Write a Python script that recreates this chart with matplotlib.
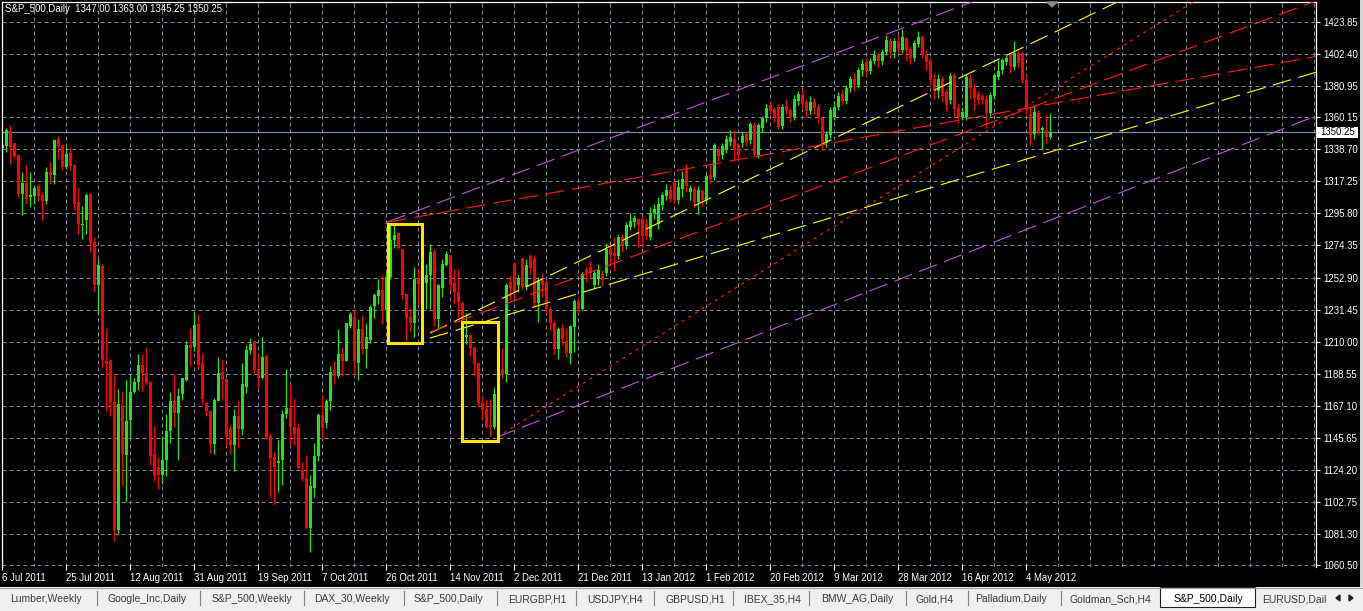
import matplotlib
matplotlib.use("Agg")
import matplotlib.pyplot as plt
from matplotlib.patches import Rectangle, Polygon

plt.rcParams['font.family'] = ['Liberation Sans', 'DejaVu Sans']

W, H = 1363, 611

# daily bars (Sun-Fri sessions), 6 Jul 2011 .. 11 May 2012
opens = [
    1339.4, 1341.2, 1350.8, 1342.9, 1334.9, 1308.8, 1316.2, 1306.5, 1307.6, 1314.4,
    1308.1, 1304.3, 1323.3, 1321.7, 1345.6, 1341.6, 1327.1, 1336.2, 1328.2, 1303.2,
    1288.2, 1291.6, 1308.8, 1276.4, 1248.0, 1260.7, 1197.1, 1197.7, 1169.6, 1083.8,
    1167.3, 1134.5, 1157.5, 1176.3, 1183.0, 1194.1, 1189.2, 1182.9, 1135.2, 1126.2,
    1121.1, 1131.1, 1150.1, 1170.6, 1162.4, 1174.7, 1184.7, 1207.6, 1206.6, 1221.6,
    1195.5, 1169.1, 1163.5, 1141.9, 1170.5, 1189.5, 1185.2, 1151.7, 1141.2, 1160.6,
    1151.7, 1179.8, 1204.4, 1210.4, 1191.6, 1185.9, 1200.2, 1146.6, 1133.2, 1129.1,
    1130.6, 1161.4, 1165.9, 1153.0, 1152.6, 1124.0, 1118.6, 1085.5, 1112.4, 1133.6,
    1161.1, 1155.9, 1170.0, 1190.8, 1187.0, 1201.5, 1197.3, 1220.6, 1226.5, 1195.7,
    1218.3, 1205.3, 1211.3, 1233.7, 1240.5, 1244.4, 1231.0, 1253.6, 1278.2, 1282.6,
    1272.0, 1241.9, 1226.8, 1222.5, 1252.9, 1248.0, 1249.1, 1254.5, 1270.1, 1225.0,
    1246.2, 1261.2, 1267.9, 1249.1, 1242.9, 1236.2, 1213.3, 1214.2, 1206.7, 1195.5,
    1169.1, 1165.1, 1154.6, 1153.0, 1175.0, 1191.5, 1188.1, 1250.0, 1262.0, 1247.8,
    1266.3, 1246.9, 1267.4, 1266.0, 1236.0, 1251.0, 1249.6, 1231.7, 1222.7, 1205.3,
    1219.4, 1210.5, 1202.2, 1220.0, 1237.3, 1232.1, 1258.5, 1260.0, 1248.0, 1252.0,
    1255.0, 1256.0, 1272.0, 1269.0, 1267.0, 1280.0, 1274.0, 1287.0, 1290.0, 1292.0,
    1292.0, 1289.0, 1280.0, 1296.0, 1288.9, 1301.6, 1307.2, 1311.2, 1317.0, 1304.5,
    1312.4, 1325.8, 1310.1, 1312.4, 1303.4, 1310.8, 1304.5, 1321.3, 1320.2, 1338.5,
    1334.7, 1338.5, 1343.6, 1345.9, 1342.1, 1343.0, 1349.2, 1344.7, 1354.8, 1334.7,
    1352.6, 1359.3, 1368.2, 1365.3, 1367.1, 1354.1, 1367.5, 1364.9, 1360.0, 1371.0,
    1375.0, 1370.0, 1364.0, 1370.0, 1367.0, 1359.3, 1343.0, 1348.0, 1360.4, 1367.0,
    1376.0, 1371.0, 1380.0, 1386.0, 1382.0, 1392.0, 1397.0, 1391.0, 1398.0, 1402.0,
    1398.0, 1404.0, 1411.0, 1404.0, 1411.0, 1405.0, 1413.0, 1406.0, 1400.0, 1409.0,
    1414.0, 1402.0, 1398.0, 1386.0, 1378.0, 1386.0, 1377.0, 1371.6, 1388.3, 1366.0,
    1360.4, 1360.0, 1385.7, 1380.0, 1376.0, 1374.3, 1372.0, 1363.1, 1374.3, 1386.8,
    1391.7, 1397.3, 1402.4, 1394.0, 1403.3, 1403.3, 1385.0, 1362.6, 1348.8, 1363.1,
    1351.5, 1351.9, 1347.0]
highs = [
    1343.4, 1353.0, 1355.0, 1343.0, 1335.6, 1323.3, 1328.2, 1323.3, 1313.9, 1315.5,
    1309.9, 1327.1, 1330.0, 1345.5, 1347.4, 1341.8, 1340.0, 1340.0, 1328.9, 1313.5,
    1300.5, 1309.4, 1309.4, 1279.7, 1265.2, 1261.8, 1219.0, 1198.2, 1188.6, 1178.5,
    1177.0, 1184.3, 1187.0, 1185.9, 1201.5, 1201.5, 1206.6, 1183.6, 1153.5, 1132.6,
    1146.8, 1161.3, 1176.3, 1188.1, 1179.2, 1186.0, 1210.5, 1219.0, 1229.8, 1228.3,
    1202.2, 1170.2, 1164.6, 1172.4, 1199.5, 1198.5, 1185.2, 1154.0, 1165.0, 1170.2,
    1196.0, 1207.7, 1212.6, 1210.4, 1202.0, 1213.4, 1202.0, 1149.0, 1136.3, 1144.2,
    1164.2, 1191.5, 1182.6, 1172.6, 1155.9, 1129.8, 1134.3, 1120.9, 1142.5, 1162.0,
    1174.5, 1171.6, 1194.0, 1196.9, 1218.7, 1206.6, 1222.4, 1229.7, 1232.0, 1225.0,
    1227.6, 1222.7, 1234.8, 1242.3, 1252.2, 1254.5, 1256.0, 1288.0, 1288.0, 1283.0,
    1272.0, 1242.0, 1232.8, 1259.8, 1259.6, 1254.0, 1261.8, 1275.2, 1272.3, 1248.4,
    1265.2, 1270.8, 1267.9, 1258.5, 1258.5, 1237.3, 1229.4, 1214.9, 1206.7, 1196.4,
    1174.0, 1170.9, 1171.4, 1179.9, 1194.0, 1206.0, 1249.5, 1254.0, 1263.0, 1254.5,
    1266.3, 1265.6, 1268.5, 1268.0, 1253.0, 1256.0, 1251.0, 1233.0, 1224.0, 1220.0,
    1222.0, 1219.4, 1221.0, 1238.4, 1240.0, 1256.3, 1260.0, 1264.0, 1258.0, 1262.0,
    1258.0, 1276.0, 1275.0, 1280.0, 1282.0, 1282.0, 1290.0, 1296.0, 1295.0, 1293.0,
    1294.0, 1292.0, 1300.0, 1302.0, 1306.8, 1310.0, 1315.7, 1314.6, 1317.3, 1319.0,
    1324.2, 1329.1, 1315.0, 1314.0, 1313.9, 1312.0, 1322.0, 1327.9, 1343.0, 1340.0,
    1343.0, 1348.0, 1351.5, 1351.5, 1342.5, 1350.0, 1351.0, 1357.0, 1357.0, 1356.0,
    1361.0, 1369.0, 1371.0, 1367.0, 1369.0, 1369.0, 1372.0, 1366.0, 1375.0, 1378.0,
    1379.0, 1372.0, 1374.0, 1373.0, 1369.0, 1360.4, 1351.0, 1367.0, 1371.0, 1377.0,
    1379.0, 1382.0, 1388.0, 1390.0, 1394.0, 1399.0, 1400.0, 1400.0, 1405.0, 1404.0,
    1406.0, 1415.0, 1413.0, 1413.0, 1416.0, 1419.0, 1414.0, 1408.0, 1412.0, 1418.0,
    1415.0, 1405.0, 1400.0, 1390.0, 1389.0, 1388.0, 1379.0, 1390.0, 1390.0, 1369.0,
    1367.0, 1389.0, 1389.0, 1383.0, 1378.0, 1376.0, 1374.9, 1377.0, 1390.0, 1398.4,
    1400.0, 1402.0, 1402.9, 1411.3, 1405.0, 1404.0, 1388.3, 1367.0, 1367.6, 1365.0,
    1354.2, 1362.6, 1363.0]
lows = [
    1326.2, 1337.0, 1329.0, 1332.7, 1307.0, 1295.0, 1302.0, 1300.3, 1302.0, 1304.3,
    1291.6, 1302.0, 1315.5, 1315.5, 1332.2, 1324.9, 1325.5, 1324.9, 1298.0, 1282.0,
    1278.6, 1282.0, 1270.1, 1243.3, 1228.3, 1193.3, 1163.6, 1160.6, 1076.4, 1081.5,
    1113.3, 1102.5, 1146.0, 1175.8, 1177.6, 1177.0, 1180.7, 1127.8, 1116.6, 1111.5,
    1115.0, 1120.0, 1142.3, 1153.0, 1131.0, 1171.0, 1184.0, 1193.7, 1204.0, 1191.9,
    1168.0, 1160.0, 1135.6, 1135.0, 1170.0, 1171.7, 1140.5, 1135.0, 1123.3, 1139.0,
    1147.3, 1176.0, 1202.0, 1189.0, 1178.7, 1185.0, 1145.0, 1106.1, 1101.0, 1109.6,
    1114.0, 1158.7, 1141.9, 1141.0, 1124.7, 1116.8, 1085.0, 1069.2, 1106.1, 1130.0,
    1145.4, 1152.4, 1164.0, 1181.5, 1185.9, 1187.0, 1196.9, 1219.0, 1188.0, 1184.7,
    1201.5, 1192.4, 1209.0, 1226.0, 1235.5, 1222.0, 1225.0, 1252.0, 1272.5, 1272.0,
    1238.5, 1210.7, 1217.0, 1213.0, 1234.4, 1236.0, 1232.1, 1231.7, 1220.5, 1218.7,
    1240.2, 1260.7, 1244.0, 1235.0, 1226.1, 1219.4, 1208.2, 1200.4, 1187.0, 1166.9,
    1159.1, 1152.4, 1146.8, 1151.3, 1172.0, 1185.9, 1183.0, 1238.0, 1239.0, 1243.3,
    1245.5, 1244.6, 1255.0, 1233.0, 1223.0, 1240.0, 1229.0, 1218.0, 1201.5, 1198.2,
    1208.0, 1200.0, 1194.8, 1203.0, 1229.0, 1231.5, 1250.0, 1252.0, 1246.0, 1248.0,
    1248.0, 1254.0, 1262.0, 1257.0, 1265.0, 1270.0, 1272.0, 1285.0, 1287.0, 1273.0,
    1273.0, 1279.0, 1278.0, 1292.0, 1285.6, 1298.0, 1304.5, 1303.4, 1302.0, 1302.3,
    1306.8, 1310.1, 1305.0, 1300.0, 1295.6, 1301.0, 1302.0, 1316.0, 1318.0, 1331.0,
    1332.0, 1336.0, 1341.0, 1331.8, 1331.4, 1340.0, 1341.0, 1342.0, 1334.0, 1333.0,
    1350.0, 1357.0, 1362.0, 1357.0, 1352.0, 1352.0, 1362.0, 1357.0, 1358.0, 1368.0,
    1366.0, 1360.0, 1362.0, 1362.0, 1356.0, 1338.1, 1340.0, 1346.0, 1358.0, 1365.0,
    1368.0, 1369.0, 1377.0, 1378.0, 1380.0, 1388.0, 1388.0, 1389.0, 1396.0, 1394.0,
    1395.0, 1402.0, 1400.0, 1400.0, 1403.0, 1403.0, 1398.0, 1396.0, 1398.0, 1407.0,
    1400.0, 1392.0, 1382.0, 1372.0, 1373.0, 1370.0, 1364.0, 1369.0, 1360.0, 1356.0,
    1358.0, 1358.0, 1372.0, 1364.9, 1368.0, 1369.0, 1352.6, 1361.0, 1372.0, 1385.0,
    1389.0, 1395.0, 1389.5, 1392.0, 1394.0, 1383.0, 1362.6, 1341.4, 1345.9, 1348.0,
    1338.1, 1343.0, 1345.25]
closes = [
    1341.6, 1351.9, 1340.0, 1334.5, 1308.8, 1316.2, 1305.4, 1308.3, 1312.8, 1307.2,
    1304.3, 1323.3, 1321.7, 1344.7, 1340.7, 1327.1, 1335.6, 1327.8, 1302.0, 1288.6,
    1288.6, 1308.1, 1275.9, 1248.0, 1261.2, 1197.7, 1194.8, 1169.6, 1084.2, 1168.0,
    1135.2, 1156.8, 1176.3, 1183.0, 1194.1, 1189.2, 1182.1, 1133.4, 1120.4, 1121.1,
    1131.1, 1150.1, 1170.6, 1162.4, 1174.0, 1185.4, 1207.6, 1205.5, 1220.9, 1194.1,
    1172.0, 1163.5, 1141.9, 1170.9, 1189.0, 1185.0, 1146.3, 1141.2, 1160.6, 1151.7,
    1181.4, 1204.4, 1208.4, 1191.0, 1185.9, 1200.0, 1145.9, 1132.5, 1125.9, 1130.4,
    1161.9, 1165.9, 1153.0, 1148.5, 1125.3, 1117.9, 1085.5, 1113.5, 1133.6, 1161.1,
    1152.2, 1170.0, 1189.5, 1187.3, 1201.5, 1197.1, 1222.4, 1228.2, 1197.0, 1218.3,
    1205.3, 1213.1, 1233.2, 1241.0, 1244.4, 1230.3, 1253.0, 1278.2, 1281.3, 1272.5,
    1241.3, 1225.6, 1222.5, 1252.0, 1248.4, 1246.0, 1254.5, 1270.1, 1225.4, 1247.8,
    1261.8, 1268.5, 1247.8, 1242.9, 1236.6, 1225.0, 1214.2, 1206.0, 1194.8, 1168.7,
    1164.6, 1153.0, 1153.0, 1174.7, 1191.0, 1187.4, 1247.8, 1246.0, 1243.0, 1252.9,
    1246.9, 1261.2, 1259.6, 1236.0, 1251.0, 1248.0, 1231.7, 1222.7, 1205.3, 1218.3,
    1211.6, 1202.2, 1220.5, 1237.3, 1232.1, 1255.1, 1255.8, 1256.0, 1256.0, 1258.0,
    1251.0, 1272.0, 1268.0, 1267.0, 1280.0, 1274.0, 1288.0, 1291.0, 1293.0, 1288.0,
    1281.0, 1281.0, 1296.0, 1299.0, 1301.9, 1307.9, 1311.2, 1305.7, 1304.5, 1313.5,
    1319.0, 1313.9, 1313.0, 1303.4, 1311.2, 1304.5, 1320.6, 1319.1, 1341.4, 1334.0,
    1340.7, 1345.9, 1347.0, 1338.1, 1334.7, 1347.4, 1343.6, 1355.5, 1334.7, 1354.8,
    1359.3, 1366.6, 1364.4, 1360.0, 1353.7, 1367.1, 1364.4, 1360.0, 1372.0, 1376.0,
    1369.0, 1364.0, 1370.0, 1366.0, 1360.0, 1343.0, 1349.2, 1364.9, 1367.1, 1374.0,
    1371.0, 1380.0, 1386.0, 1382.0, 1392.0, 1396.0, 1391.0, 1398.0, 1402.0, 1398.0,
    1404.0, 1412.0, 1404.0, 1411.0, 1406.0, 1414.0, 1405.0, 1400.0, 1410.0, 1414.0,
    1402.0, 1397.0, 1385.0, 1378.0, 1386.0, 1374.0, 1368.0, 1387.7, 1365.3, 1360.0,
    1363.8, 1387.2, 1379.4, 1372.7, 1371.6, 1371.6, 1363.1, 1374.9, 1388.3, 1391.2,
    1398.4, 1399.5, 1394.4, 1402.9, 1396.2, 1385.0, 1364.9, 1348.1, 1363.8, 1350.3,
    1353.2, 1346.6, 1350.25]

price_ticks = [1423.85, 1402.40, 1380.95, 1360.15, 1338.70, 1317.25, 1295.80, 1274.35,
               1252.90, 1231.45, 1210.00, 1188.55, 1167.10, 1145.65, 1124.20, 1102.75,
               1081.30, 1060.50]
date_labels = ["6 Jul 2011", "25 Jul 2011", "12 Aug 2011", "31 Aug 2011", "19 Sep 2011",
               "7 Oct 2011", "26 Oct 2011", "14 Nov 2011", "2 Dec 2011", "21 Dec 2011",
               "13 Jan 2012", "1 Feb 2012", "20 Feb 2012", "9 Mar 2012", "28 Mar 2012",
               "16 Apr 2012", "4 May 2012"]
last_price = 1350.25
title = "S&P_500,Daily  1347.00 1363.00 1345.25 1350.25"

# trend lines: (bar0, price0, bar1, price1) -> drawn as rays to the right
purple_lines = [(96.2, 1290.0, 242.4, 1437.2), (123.7, 1146.2, 327.7, 1360.3)]
yellow_lines = [(106.9, 1215.7, 278.7, 1437.2), (106.9, 1212.4, 327.7, 1389.7)]
red_dash_lines = [(106.9, 1216.4, 327.7, 1437.2), (96.4, 1290.0, 327.7, 1400.4)]
red_dot_lines = [(123.7, 1146.2, 297.7, 1437.2)]
# highlight boxes: (bar_left, bar_right, price_bottom, price_top)
boxes = [(96.34, 104.99, 1209.1, 1288.5), (114.97, 123.97, 1143.7, 1222.9)]

tabs = ["Lumber,Weekly", "Google_Inc,Daily", "S&P_500,Weekly", "DAX_30,Weekly",
        "S&P_500,Daily", "EURGBP,H1", "USDJPY,H4", "GBPUSD,H1", "IBEX_35,H4",
        "BMW_AG,Daily", "Gold,H4", "Palladium,Daily", "Goldman_Sch,H4",
        "S&P_500,Daily", "EURUSD,Dail"]
tab_x = [10, 107, 212, 314, 414, 508, 587, 665, 744, 821, 916, 975, 1069, 1174, 1262]
tab_sep = [97, 200, 304, 404, 497, 576, 654, 733, 809, 906, 968, 1061]

grid_col = '#778899'
up_col = '#1EE61E'
down_col = '#FF0000'

fig = plt.figure(figsize=(W / 100, H / 100), dpi=100, facecolor='black')
ax = fig.add_axes([2 / W, (H - 567) / H, 1314 / W, 565 / H])
ax.set_facecolor('black')
xmin, xmax = -0.08, 328.4
ax.set_xlim(xmin, xmax)
ax.set_ylim(1059.3, 1437.2)

# grid
for p in price_ticks:
    ax.axhline(p, color=grid_col, lw=0.72, dashes=(4, 3), zorder=0)
for k in range(41):
    ax.axvline((34 + 32 * k - 2.33) / 4, color=grid_col, lw=0.72, dashes=(4, 3), zorder=0)
ax.axhline(last_price, color=grid_col, lw=0.9, zorder=1)

# candles
n = len(closes)
for i in range(n):
    o, h, l, c = opens[i], highs[i], lows[i], closes[i]
    col = up_col if c >= o else down_col
    ax.vlines(i, l, h, color=col, lw=0.9, zorder=2)
    ax.bar(i, max(abs(c - o), 0.7), bottom=min(o, c), width=0.75, color=col,
           linewidth=0, zorder=2)


def ray(line, color, dashes):
    x0, p0, x1, p1 = line
    s = (p1 - p0) / (x1 - x0)
    ax.plot([x0, xmax + 2], [p0, p0 + s * (xmax + 2 - x0)], color=color, lw=0.8,
            dashes=dashes, zorder=3)


for ln in purple_lines:
    ray(ln, '#BA55D3', (17, 7))
for ln in yellow_lines:
    ray(ln, '#FFFF00', (17, 7))
for ln in red_dash_lines:
    ray(ln, '#FF1A1A', (17, 7))
for ln in red_dot_lines:
    ray(ln, '#FF1A1A', (3, 4))

for b in boxes:
    ax.add_patch(Rectangle((b[0], b[2]), b[1] - b[0], b[3] - b[2], fill=False,
                           edgecolor='#FFE600', lw=2.2, zorder=4))

# frame and axes text
for s in ['left', 'top', 'right']:
    ax.spines[s].set_color('white')
    ax.spines[s].set_linewidth(0.9)
ax.spines['bottom'].set_visible(False)
ax.yaxis.tick_right()
ax.set_yticks(price_ticks)
ax.set_yticklabels(["%.2f" % p for p in price_ticks])
ax.tick_params(axis='y', colors='white', length=3, width=0.8, pad=2, labelsize=6.9)
ax.set_xticks([16 * k for k in range(len(date_labels))])
ax.set_xticklabels(date_labels, ha='left')
ax.tick_params(axis='x', colors='white', direction='inout', length=5, width=0.8,
               pad=2, labelsize=6.9)
for lab in ax.get_xticklabels():
    lab.set_horizontalalignment('left')

# overlay in pixel coordinates
ov = fig.add_axes([0, 0, 1, 1], zorder=10)
ov.set_xlim(0, W)
ov.set_ylim(H, 0)
ov.axis('off')
ov.patch.set_alpha(0)

ov.text(5, 12, title, color='white', fontsize=6.9, va='baseline', ha='left')
ov.add_patch(Polygon([(1047, 2), (1057, 2), (1052, 7)], closed=True, color='#8C8C8C'))
ov.add_patch(Rectangle((1317, 126.5), 41, 11, facecolor='white', edgecolor='none'))
ov.text(1320, 135, "%.2f" % last_price, color='black', fontsize=6.9, va='baseline', ha='left')
ov.add_patch(Rectangle((1360, 0), 3, 587, facecolor='#D6D6D6', edgecolor='none'))

# tab bar
ov.add_patch(Rectangle((0, 587), W, H - 587, facecolor='#F0F0F0', edgecolor='none'))
ov.plot([0, W], [587.5, 587.5], color='#A0A0A0', lw=0.8)
for sx in tab_sep:
    ov.plot([sx, sx], [591, 605], color='#7F7F7F', lw=0.8)
ov.add_patch(Rectangle((1160, 587), 95, 20, facecolor='white', edgecolor='#222222', lw=0.8))
for t, tx in zip(tabs, tab_x):
    col = 'black' if tx == 1174 else '#3A3A3A'
    ov.text(tx, 602, t, color=col, fontsize=7.5, va='baseline', ha='left')
ov.add_patch(Rectangle((1328, 588), 35, 18, facecolor='#F0F0F0', edgecolor='none'))
ov.add_patch(Polygon([(1336, 598), (1340, 595), (1340, 601)], closed=True, color='#202020'))
ov.add_patch(Polygon([(1353, 598), (1349, 595), (1349, 601)], closed=True, color='#202020'))

fig.savefig("out.png", dpi=100, facecolor='black')
